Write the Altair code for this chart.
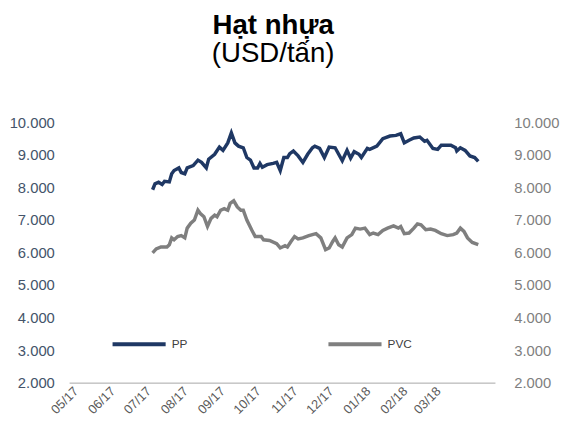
import altair as alt
import pandas as pd

# Day offsets from 2017-05-01 and prices (USD/tấn)
pp_days = [68, 70, 73, 76, 78, 82, 84, 86, 90, 92, 95, 97, 102, 106, 109, 113, 115, 120, 124, 127,
           131, 134, 137, 140, 144, 147, 150, 153, 156, 158, 160, 164, 169, 172, 175, 178, 181, 183,
           186, 190, 194, 198, 202, 204, 208, 212, 216, 221, 224, 227, 231, 234, 237, 241, 243, 248,
           250, 256, 261, 267, 272, 276, 279, 283, 287, 292, 296, 298, 303, 307, 310, 318, 322, 323,
           326, 330, 334, 338, 341]
pp_vals = [7930, 8110, 8160, 8090, 8190, 8170, 8420, 8520, 8600, 8460, 8420, 8600, 8670, 8840, 8770,
           8600, 8870, 9020, 9240, 9140, 9370, 9680, 9370, 9270, 9220, 8920, 8840, 8600, 8600, 8740,
           8620, 8700, 8740, 8770, 8520, 8920, 8920, 9040, 9120, 8970, 8770, 9020, 9220, 9270, 9200,
           8920, 9240, 9220, 9020, 8820, 9140, 8900, 9100, 9020, 8920, 9200, 9170, 9270, 9500, 9580,
           9600, 9650, 9370, 9450, 9520, 9550, 9420, 9450, 9200, 9170, 9300, 9300, 9220, 9120, 9220,
           9140, 8970, 8920, 8800]

pvc_days = [68, 71, 75, 80, 82, 84, 86, 89, 92, 95, 97, 100, 103, 106, 108, 111, 114, 117, 120, 122,
            125, 128, 131, 133, 136, 139, 142, 144, 147, 151, 154, 159, 161, 166, 172, 175, 179, 181,
            184, 187, 190, 194, 199, 205, 209, 213, 216, 219, 221, 224, 227, 231, 235, 238, 242, 246,
            250, 253, 257, 261, 265, 270, 274, 276, 279, 283, 287, 290, 293, 297, 301, 305, 310, 315,
            320, 323, 326, 329, 332, 336, 341]
pvc_vals = [5990, 6110, 6170, 6170, 6240, 6450, 6390, 6490, 6520, 6450, 6750, 6900, 7000, 7300, 7200,
            7100, 6800, 7050, 7150, 7100, 7300, 7350, 7300, 7510, 7590, 7400, 7300, 7300, 7000, 6700,
            6490, 6490, 6390, 6370, 6270, 6140, 6210, 6170, 6340, 6490, 6420, 6450, 6520, 6580, 6450,
            6090, 6140, 6340, 6450, 6240, 6170, 6450, 6550, 6750, 6720, 6750, 6550, 6600, 6550, 6680,
            6750, 6820, 6750, 6800, 6580, 6600, 6750, 6880, 6850, 6700, 6720, 6680, 6580, 6520, 6550,
            6600, 6750, 6650, 6450, 6310, 6240]

series_names = ["PP", "PVC"]
series_colors = ["#1F3864", "#7F7F7F"]
y_ticks = [2000, 3000, 4000, 5000, 6000, 7000, 8000, 9000, 10000]
x_tick_months = [(2017, 5), (2017, 6), (2017, 7), (2017, 8), (2017, 9), (2017, 10),
                 (2017, 11), (2017, 12), (2018, 1), (2018, 2), (2018, 3)]

start = pd.Timestamp("2017-05-01")
df = pd.concat([
    pd.DataFrame({"date": start + pd.to_timedelta(pp_days, unit="D"), "value": pp_vals, "series": "PP"}),
    pd.DataFrame({"date": start + pd.to_timedelta(pvc_days, unit="D"), "value": pvc_vals, "series": "PVC"}),
])

font = "Liberation Sans"
x_enc = alt.X(
    "date:T",
    scale=alt.Scale(domain=[alt.DateTime(year=2017, month=4, date=29),
                            alt.DateTime(year=2018, month=4, date=21)]),
    axis=alt.Axis(
        title=None, format="%m/%y", labelAngle=-45,
        values=[alt.DateTime(year=y, month=m, date=1) for y, m in x_tick_months],
        ticks=False, grid=False, domainColor="#A6A6A6", domainWidth=1,
        labelColor="#595959", labelFontSize=13, labelFont=font, labelPadding=2,
    ),
)
y_scale = alt.Scale(domain=[2000, 10000], nice=False, zero=False)
label_expr = "replace(format(datum.value, ',.0f'), ',', '.')"

lines = alt.Chart(df).mark_line(strokeWidth=3.5).encode(
    x=x_enc,
    y=alt.Y("value:Q", scale=y_scale,
            axis=alt.Axis(title=None, orient="left", values=y_ticks, labelExpr=label_expr,
                          grid=False, ticks=False, domain=False, labelColor="#44546A",
                          labelFontSize=15, labelFont=font, labelPadding=15)),
    color=alt.Color("series:N",
                    scale=alt.Scale(domain=series_names, range=series_colors),
                    legend=alt.Legend(title=None, orient="none", legendX=42, legendY=196,
                                      direction="horizontal", symbolType="stroke",
                                      symbolSize=2900, symbolStrokeWidth=4,
                                      labelFontSize=12, labelFont=font, labelColor="#404040",
                                      labelOffset=4, columnPadding=134)),
    detail="series:N",
)

right = alt.Chart(df).mark_line(opacity=0).encode(
    x=x_enc,
    y=alt.Y("value:Q", scale=y_scale,
            axis=alt.Axis(title=None, orient="right", values=y_ticks, labelExpr=label_expr,
                          grid=False, ticks=False, domain=False, labelColor="#7F7F7F",
                          labelFontSize=15, labelFont=font, labelPadding=19)),
)

chart = alt.layer(lines, right).resolve_scale(y="independent").properties(
    width=432, height=264,
    autosize=alt.AutoSizeParams(type="none"),
    padding={"left": 62, "top": 113, "right": 67, "bottom": 45},
    title=alt.TitleParams(
        text="Hạt nhựa", subtitle="(USD/tấn)", anchor="middle", dx=-9,
        font=font, fontSize=28, fontWeight="bold", color="#000000",
        subtitleFont=font, subtitleFontSize=28, subtitleColor="#000000",
        subtitlePadding=1, offset=48,
    ),
).configure_view(stroke=None)

chart.save("out.html", embed_options={"renderer": "svg", "actions": False})
